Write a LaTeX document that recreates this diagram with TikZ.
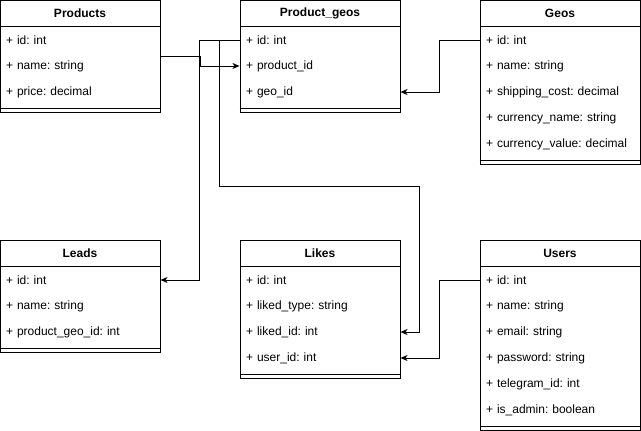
\documentclass[tikz,border=0pt]{standalone}
\usepackage{fontspec}
\setmainfont{Liberation Sans}
\usetikzlibrary{arrows.meta}
\frenchspacing

\begin{document}
\begin{tikzpicture}[
    x=1pt, y=-1pt,
    line width=1pt,
    tbl/.style={
        draw, fill=white,
        minimum width=160pt,
        inner sep=0pt,
    },
    hdr/.style={
        draw,
        minimum width=160pt,
        minimum height=26pt,
        inner sep=0pt,
        font=\fontsize{12}{14}\selectfont\bfseries,
    },
    fld/.style={
        minimum height=26pt,
        inner xsep=6pt, inner ysep=0pt,
        text width=148pt,
        align=left,
        yshift=-1pt,
        font=\fontsize{12}{14}\selectfont,
    },
    fk/.style={-{Stealth[length=7pt, width=6pt, inset=2pt]}},
]
\useasboundingbox (0,0) rectangle (641,431);

% Products
\node[tbl, minimum height=112pt] (products) at (80,56) {};
\node[hdr] (products-h) at (80,13) {Products};
\node[fld] (products-id) at (80,39) {+ id: int};
\node[fld] (products-name) at (80,65) {+ name: string};
\node[fld] (products-price) at (80,91) {+ price: decimal};
\draw ([yshift=4pt]products.south west) -- ([yshift=4pt]products.south east);

% Product_geos
\node[tbl, minimum height=112pt] (pgeos) at (320,56) {};
\node[hdr] (pgeos-h) at (320,13) {Product\_geos};
\node[fld] (pgeos-id) at (320,39) {+ id: int};
\node[fld] (pgeos-pid) at (320,65) {+ product\_id};
\node[fld] (pgeos-gid) at (320,91) {+ geo\_id};
\draw ([yshift=4pt]pgeos.south west) -- ([yshift=4pt]pgeos.south east);

% Geos
\node[tbl, minimum height=164pt] (geos) at (560,82) {};
\node[hdr] (geos-h) at (560,13) {Geos};
\node[fld] (geos-id) at (560,39) {+ id: int};
\node[fld] (geos-name) at (560,65) {+ name: string};
\node[fld] (geos-cost) at (560,91) {+ shipping\_cost: decimal};
\node[fld] (geos-cur) at (560,117) {+ currency\_name: string};
\node[fld] (geos-val) at (560,143) {+ currency\_value: decimal};
\draw ([yshift=4pt]geos.south west) -- ([yshift=4pt]geos.south east);

% Leads
\node[tbl, minimum height=112pt] (leads) at (80,296) {};
\node[hdr] (leads-h) at (80,253) {Leads};
\node[fld] (leads-id) at (80,279) {+ id: int};
\node[fld] (leads-name) at (80,305) {+ name: string};
\node[fld] (leads-pgid) at (80,331) {+ product\_geo\_id: int};
\draw ([yshift=4pt]leads.south west) -- ([yshift=4pt]leads.south east);

% Likes
\node[tbl, minimum height=138pt] (likes) at (320,309) {};
\node[hdr] (likes-h) at (320,253) {Likes};
\node[fld] (likes-id) at (320,279) {+ id: int};
\node[fld] (likes-type) at (320,305) {+ liked\_type: string};
\node[fld] (likes-lid) at (320,331) {+ liked\_id: int};
\node[fld] (likes-uid) at (320,357) {+ user\_id: int};
\draw ([yshift=4pt]likes.south west) -- ([yshift=4pt]likes.south east);

% Users
\node[tbl, minimum height=190pt] (users) at (560,335) {};
\node[hdr] (users-h) at (560,253) {Users};
\node[fld] (users-id) at (560,279) {+ id: int};
\node[fld] (users-name) at (560,305) {+ name: string};
\node[fld] (users-mail) at (560,331) {+ email: string};
\node[fld] (users-pass) at (560,357) {+ password: string};
\node[fld] (users-tg) at (560,383) {+ telegram\_id: int};
\node[fld] (users-adm) at (560,409) {+ is\_admin: boolean};
\draw ([yshift=4pt]users.south west) -- ([yshift=4pt]users.south east);

% relations
\draw[fk] (products.east) -- ++(40,0) |- (pgeos-pid.west);
\draw[fk] (pgeos-id.west) -- ++(-40,0) |- (leads-id.east);
\draw[fk] (pgeos-id.west) -- ++(-20,0) -- ++(0,146) -- ++(200,0) |- (likes-lid.east);
\draw[fk] (geos-id.west) -- ++(-40,0) |- (pgeos-gid.east);
\draw[fk] (users-id.west) -- ++(-40,0) |- (likes-uid.east);

\end{tikzpicture}
\end{document}
